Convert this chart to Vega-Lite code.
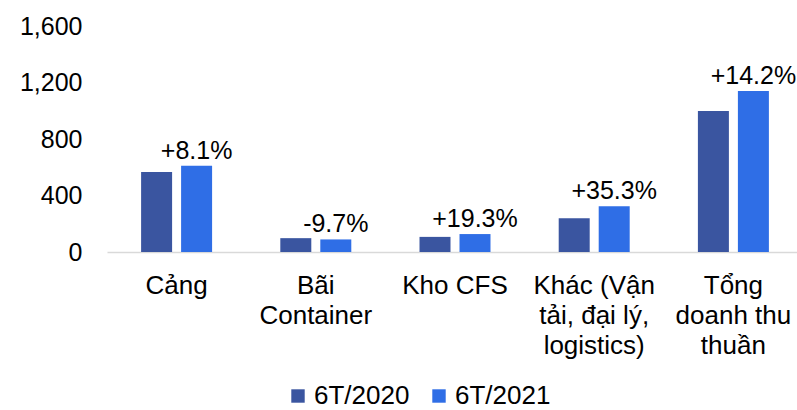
{
  "$schema": "https://vega.github.io/schema/vega-lite/v6.json",
  "autosize": {"type": "none"},
  "padding": {"left": 107, "top": 26, "right": 0, "bottom": 158},
  "width": 696,
  "height": 226,
  "background": "white",
  "config": {
    "font": "Liberation Sans",
    "view": {"stroke": null}
  },
  "data": {
    "values": [
      {"cat": "Cảng", "series": "6T/2020", "value": 566, "label": ""},
      {"cat": "Cảng", "series": "6T/2021", "value": 611, "label": "+8.1%"},
      {"cat": "Bãi Container", "series": "6T/2020", "value": 98, "label": ""},
      {"cat": "Bãi Container", "series": "6T/2021", "value": 89, "label": "-9.7%"},
      {"cat": "Kho CFS", "series": "6T/2020", "value": 107, "label": ""},
      {"cat": "Kho CFS", "series": "6T/2021", "value": 127, "label": "+19.3%"},
      {"cat": "Khác (Vận tải, đại lý, logistics)", "series": "6T/2020", "value": 239, "label": ""},
      {"cat": "Khác (Vận tải, đại lý, logistics)", "series": "6T/2021", "value": 324, "label": "+35.3%"},
      {"cat": "Tổng doanh thu thuần", "series": "6T/2020", "value": 998, "label": ""},
      {"cat": "Tổng doanh thu thuần", "series": "6T/2021", "value": 1140, "label": "+14.2%"}
    ]
  },
  "encoding": {
    "x": {
      "field": "cat",
      "type": "nominal",
      "sort": null,
      "scale": {"paddingInner": 0.49, "paddingOuter": 0.245},
      "axis": {
        "title": null,
        "labelAngle": 0,
        "labelFontSize": 26,
        "labelColor": "#000000",
        "labelBaseline": "top",
        "labelPadding": 20,
        "labelLineHeight": 30,
        "labelLimit": 0,
        "labelExpr": "datum.value == 'Bãi Container' ? ['Bãi', 'Container'] : datum.value == 'Khác (Vận tải, đại lý, logistics)' ? ['Khác (Vận', 'tải, đại lý,', 'logistics)'] : datum.value == 'Tổng doanh thu thuần' ? ['Tổng', 'doanh thu', 'thuần'] : datum.value",
        "ticks": false,
        "domainColor": "#d9d9d9",
        "domainWidth": 1.5,
        "grid": false
      }
    },
    "xOffset": {
      "field": "series",
      "type": "nominal",
      "scale": {"paddingInner": 0.225, "paddingOuter": 0}
    }
  },
  "layer": [
    {
      "mark": {"type": "bar"},
      "encoding": {
        "y": {
          "field": "value",
          "type": "quantitative",
          "scale": {"domain": [0, 1600]},
          "axis": {
            "title": null,
            "values": [0, 400, 800, 1200, 1600],
            "format": ",.0f",
            "labelFontSize": 25,
            "labelColor": "#000000",
            "labelPadding": 25,
            "ticks": false,
            "domain": false,
            "grid": false
          }
        },
        "color": {
          "field": "series",
          "type": "nominal",
          "scale": {"domain": ["6T/2020", "6T/2021"], "range": ["#3A55A0", "#2F6EE6"]},
          "legend": {
            "title": null,
            "orient": "none",
            "direction": "horizontal",
            "legendX": 178,
            "legendY": 357,
            "symbolType": "square",
            "symbolSize": 180,
            "symbolStrokeWidth": 0,
            "labelFontSize": 26,
            "labelColor": "#000000",
            "labelOffset": 3,
            "columnPadding": 16,
            "labelLimit": 0
          }
        }
      }
    },
    {
      "transform": [{"filter": "datum.label != ''"}],
      "mark": {"type": "text", "baseline": "alphabetic", "dy": -7, "fontSize": 25, "color": "#000000"},
      "encoding": {
        "y": {"field": "value", "type": "quantitative"},
        "text": {"field": "label"}
      }
    }
  ]
}
